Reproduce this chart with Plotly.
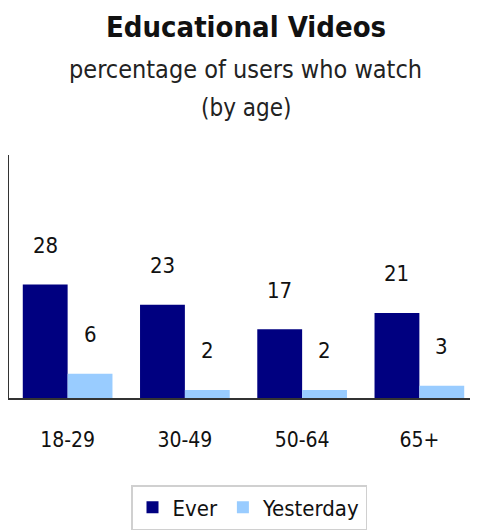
import plotly.graph_objects as go

categories = ["18-29", "30-49", "50-64", "65+"]
ever = [28, 23, 17, 21]
yesterday = [6, 2, 2, 3]
series_names = ["Ever", "Yesterday"]
title = "Educational Videos"
subtitle1 = "percentage of users who watch"
subtitle2 = "(by age)"

FONT = "DejaVu Sans Condensed, DejaVu Sans"
DARK = "#000080"
LIGHT = "#99CCFF"

# The page body has an 8px margin; figure is sized to fill the rest of the window.
W, H = 470, 523
L, R, T, B = 1, 0, 147, 133
plot_w = W - L - R
plot_h = H - T - B


def px(x):  # window x pixel -> paper fraction
    return (x - 8 - L) / plot_w


def py(y):  # window y pixel -> paper fraction
    return (H - B - (y - 8)) / plot_h


fig = go.Figure()
fig.add_trace(go.Bar(x=categories, y=ever, name=series_names[0], marker_color=DARK,
                     marker_line_width=0))
fig.add_trace(go.Bar(x=categories, y=yesterday, name=series_names[1], marker_color=LIGHT,
                     marker_line_width=0))

bargap = 0.235
half = (1 - bargap) / 4
annotations = []
for i, (e, y) in enumerate(zip(ever, yesterday)):
    for val, off in ((e, -half), (y, half)):
        annotations.append(dict(x=i + off, y=val, xref="x", yref="y", text=str(val),
                                showarrow=False, yshift=39, yanchor="middle",
                                font=dict(family=FONT, size=22, color="#111")))

annotations += [
    dict(x=px(246), y=py(27), xref="paper", yref="paper", text="<b>" + title + "</b>",
         showarrow=False, yanchor="middle", font=dict(family=FONT, size=29, color="#111")),
    dict(x=px(246), y=py(70), xref="paper", yref="paper", text=subtitle1,
         showarrow=False, yanchor="middle", font=dict(family=FONT, size=25, color="#222")),
    dict(x=px(246), y=py(108), xref="paper", yref="paper", text=subtitle2,
         showarrow=False, yanchor="middle", font=dict(family=FONT, size=24, color="#222")),
]

fig.update_layout(
    width=W, height=H,
    margin=dict(l=L, r=R, t=T, b=B, pad=0),
    paper_bgcolor="white", plot_bgcolor="white",
    barmode="group", bargap=bargap, bargroupgap=0,
    font=dict(family=FONT, size=20, color="#111"),
    showlegend=True,
    legend=dict(orientation="h", xref="container", yref="container",
                x=(131 - 8) / W, xanchor="left", y=1 - (485 - 8) / H, yanchor="top",
                bordercolor="#d0d0d0", borderwidth=1.5,
                font=dict(family=FONT, size=22, color="#111"),
                tracegroupgap=0),
    xaxis=dict(showline=True, linecolor="#333", linewidth=1.5, ticks="",
               ticklabelstandoff=22,
               tickfont=dict(family=FONT, size=21, color="#111"),
               showgrid=False, zeroline=False),
    yaxis=dict(range=[0, 60], showline=True, linecolor="#333", linewidth=1.5,
               showticklabels=False, ticks="", showgrid=False, zeroline=False),
    annotations=annotations,
)

fig.write_html("out.html")
